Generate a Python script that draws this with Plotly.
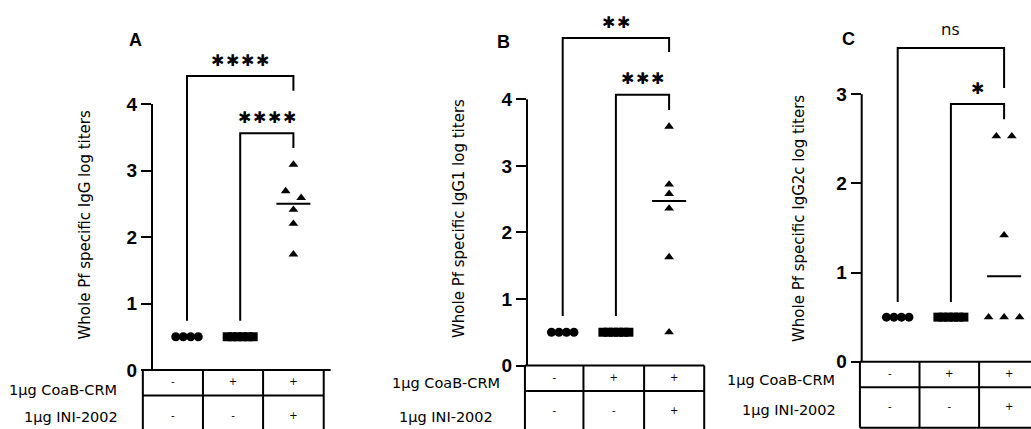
import numpy as np
import plotly.graph_objects as go

W, H = 1031, 429

# ---------------- data ----------------
groups = [1, 2, 3]
coab_row = ["-", "+", "+"]
ini_row = ["-", "-", "+"]
row_labels = ["1μg CoaB-CRM", "1μg INI-2002"]

igg_naive = [0.5, 0.5, 0.5, 0.5]
igg_coab = [0.5, 0.5, 0.5, 0.5, 0.5, 0.5]
igg_combo = [3.09, 2.69, 2.59, 2.41, 2.20, 1.74]

igg1_naive = [0.5, 0.5, 0.5, 0.5]
igg1_coab = [0.5, 0.5, 0.5, 0.5, 0.5, 0.5]
igg1_combo = [3.59, 2.72, 2.58, 2.36, 1.63, 0.50]

igg2c_naive = [0.5, 0.5, 0.5, 0.5]
igg2c_coab = [0.5, 0.5, 0.5, 0.5, 0.5, 0.5]
igg2c_combo = [2.53, 2.53, 1.42, 0.50, 0.50, 0.50]

panel_letters = ["A", "B", "C"]
y_titles = ["Whole Pf specific IgG log titers",
            "Whole Pf specific IgG1 log titers",
            "Whole Pf specific IgG2c log titers"]
y_ticks = [[0, 1, 2, 3, 4], [0, 1, 2, 3, 4], [0, 1, 2, 3]]

# significance: (group a, group b, label)
sig_labels = [["****", "****"], ["**", "***"], ["ns", "*"]]
sig_pairs = [(1, 3), (2, 3)]
# bracket levels (y of the bar, bottom of right leg, bottom of left leg, label y)
bracket_bar = [[4.42, 3.56], [4.92, 4.07], [3.52, 2.89]]
bracket_right_end = [[4.20, 3.34], [4.71, 3.84], [3.07, 2.72]]
bracket_left_end = [0.74, 0.745, 0.67]
label_y = [[4.65, 3.80], [5.16, 4.31], [3.74, 3.07]]

panel_data = [
    [igg_naive, igg_coab, igg_combo],
    [igg1_naive, igg1_coab, igg1_combo],
    [igg2c_naive, igg2c_coab, igg2c_combo],
]

# ---------------- layout config ----------------
XPPU = 53.2  # px per group unit
cfg = [
    dict(axis_px=152.0, g1_px=187.0, right_px=330.0, y0_px=370.0, ppu=66.5,
         edges=[0.17, 1.30, 2.43, 3.57], top_right=3.70,
         letter=(135, 40), title_x=84, title_y=224.5,
         rl=[(119, 390), (120, 416.7)]),
    dict(axis_px=527.0, g1_px=562.7, right_px=704.0, y0_px=365.5, ppu=66.55,
         edges=[0.29, 1.39, 2.53, 3.66], top_right=3.66,
         letter=(503, 41.7), title_x=459, title_y=219,
         rl=[(502, 383.3), (495, 416.7)]),
    dict(axis_px=861.7, g1_px=897.7, right_px=1031.0, y0_px=361.7, ppu=89.13,
         edges=[0.29, 1.41, 2.53, 3.66], top_right=3.66,
         letter=(848, 39.3), title_x=799, title_y=219,
         rl=[(837, 380), (838, 410)]),
]
ROW1_H = 25.5
TBL_H = 66.0

markers = [dict(symbol="circle", size=9, step=7.5),
           dict(symbol="square", size=9, step=5.2),
           dict(symbol="triangle-up", size=8.5, step=15.5)]

TEXT_FONT = "DejaVu Sans"


def axn(letter, k):
    return letter if k == 1 else f"{letter}{k}"


def swarm_offsets(vals, step_px, ppu_y, thresh_px=8.0):
    v = np.asarray(vals, dtype=float)
    order = np.argsort(-v, kind="stable")
    clusters = []
    for idx in order:
        if clusters and (v[clusters[-1][-1]] - v[idx]) * ppu_y < thresh_px:
            clusters[-1].append(idx)
        else:
            clusters.append([idx])
    off = np.zeros(len(v))
    for cl in clusters:
        n = len(cl)
        for j, idx in enumerate(cl):
            off[idx] = (j - (n - 1) / 2.0) * step_px / XPPU
    return off


fig = go.Figure()
layout = dict(template="none", width=W, height=H, autosize=False,
              margin=dict(l=0, r=0, t=0, b=0, pad=0, autoexpand=False),
              paper_bgcolor="white", plot_bgcolor="rgba(0,0,0,0)",
              showlegend=False)
shapes = []
annotations = []

for i, c in enumerate(cfg):
    k = i + 1          # main axes
    t = i + 4          # table axes
    xa, ya = axn("x", k), axn("y", k)
    xt, yt = axn("x", t), axn("y", t)
    xkey = "xaxis" if k == 1 else f"xaxis{k}"
    ykey = "yaxis" if k == 1 else f"yaxis{k}"

    # main axes
    x_lo = 1 + (c["axis_px"] - c["g1_px"]) / XPPU
    x_hi = 1 + (c["right_px"] - c["g1_px"]) / XPPU
    y_hi = (c["y0_px"] - 2) / c["ppu"]
    layout[xkey] = dict(domain=[c["axis_px"] / W, c["right_px"] / W],
                        range=[x_lo, x_hi], visible=False, automargin=False,
                        anchor=ya, fixedrange=True)
    layout[ykey] = dict(domain=[1 - c["y0_px"] / H, 1 - 2 / H],
                        range=[0, y_hi], anchor=xa, automargin=False,
                        showline=False, zeroline=False, showgrid=False,
                        tickvals=y_ticks[i], ticks="outside", ticklen=10,
                        tickwidth=2, tickcolor="black",
                        tickfont=dict(family="Liberation Sans", size=19,
                                      color="black", weight="bold"))
    # y axis line from 0 to top tick
    shapes.append(dict(type="line", xref=f"{xa} domain", yref=ya,
                       x0=0, x1=0, y0=-0.02, y1=max(y_ticks[i]),
                       line=dict(color="black", width=2)))

    # table axes
    e = c["edges"]
    tl_px = c["g1_px"] + (e[0] - 1) * XPPU - 5
    tr_px = min(c["g1_px"] + (max(e[3], c["top_right"]) - 1) * XPPU + 5, W)
    T = c["y0_px"]
    layout[f"xaxis{t}"] = dict(domain=[tl_px / W, tr_px / W],
                               range=[1 + (tl_px - c["g1_px"]) / XPPU,
                                      1 + (tr_px - c["g1_px"]) / XPPU],
                               visible=False, anchor=yt, fixedrange=True,
                               automargin=False)
    layout[f"yaxis{t}"] = dict(domain=[0, 1 - (T - 6) / H],
                               range=[-(H - T), 6], visible=False,
                               anchor=xt, fixedrange=True, automargin=False)
    line = dict(color="black", width=2)
    shapes.append(dict(type="line", xref=xt, yref=yt, x0=e[0], x1=c["top_right"],
                       y0=0, y1=0, line=line))
    shapes.append(dict(type="line", xref=xt, yref=yt, x0=e[0], x1=e[3],
                       y0=-ROW1_H, y1=-ROW1_H, line=line))
    shapes.append(dict(type="line", xref=xt, yref=yt, x0=e[0], x1=e[3],
                       y0=-TBL_H, y1=-TBL_H, line=line))
    for ex in e:
        shapes.append(dict(type="line", xref=xt, yref=yt, x0=ex, x1=ex,
                           y0=0, y1=-TBL_H, line=line))
    centers = [(e[j] + e[j + 1]) / 2 for j in range(3)]
    fig.add_trace(go.Scatter(x=centers, y=[-12.8] * 3, text=coab_row, mode="text",
                             textfont=dict(family=TEXT_FONT, size=10, color="black"),
                             xaxis=xt, yaxis=yt, hoverinfo="skip"))
    fig.add_trace(go.Scatter(x=centers, y=[-46] * 3, text=ini_row, mode="text",
                             textfont=dict(family=TEXT_FONT, size=10, color="black"),
                             xaxis=xt, yaxis=yt, hoverinfo="skip"))

    # data points
    for g, vals, m in zip(groups, panel_data[i], markers):
        off = swarm_offsets(vals, m["step"], c["ppu"])
        fig.add_trace(go.Scatter(x=g + off, y=vals, mode="markers",
                                 marker=dict(symbol=m["symbol"], size=m["size"],
                                             color="black", line=dict(width=0)),
                                 xaxis=xa, yaxis=ya, cliponaxis=False,
                                 hoverinfo="skip"))
    # median line of the combination group
    md = float(np.median(panel_data[i][2]))
    fig.add_trace(go.Scatter(x=[groups[2] - 0.32, groups[2] + 0.32], y=[md, md],
                             mode="lines", line=dict(color="black", width=2),
                             xaxis=xa, yaxis=ya, hoverinfo="skip"))

    # significance brackets
    for j, (ga, gb) in enumerate(sig_pairs):
        bx = [ga, ga, gb, gb]
        by = [bracket_left_end[i], bracket_bar[i][j], bracket_bar[i][j],
              bracket_right_end[i][j]]
        fig.add_trace(go.Scatter(x=bx, y=by, mode="lines",
                                 line=dict(color="black", width=2),
                                 xaxis=xa, yaxis=ya, hoverinfo="skip"))
        lab = sig_labels[i][j]
        if lab == "ns":
            txt, fnt = "ns", dict(family="Open Sans", size=17, color="black")
        else:
            txt = "\u200a".join(["✱"] * len(lab))
            fnt = dict(family="DejaVu Sans", size=16, color="black")
        annotations.append(dict(x=(ga + gb) / 2, y=label_y[i][j], xref=xa, yref=ya,
                                text=txt, showarrow=False, font=fnt,
                                xanchor="center", yanchor="middle"))

    # panel letter
    annotations.append(dict(x=c["letter"][0] / W, y=1 - c["letter"][1] / H,
                            xref="paper", yref="paper", text=panel_letters[i],
                            showarrow=False, xanchor="center", yanchor="middle",
                            font=dict(family="Liberation Sans", size=18,
                                      color="black", weight="bold")))
    # y title
    annotations.append(dict(x=c["title_x"] / W, y=1 - c["title_y"] / H,
                            xref="paper", yref="paper", text=y_titles[i],
                            textangle=-90, showarrow=False,
                            xanchor="center", yanchor="middle",
                            font=dict(family=TEXT_FONT, size=15, color="black")))
    # row labels
    for (rx, ry), lab in zip(c["rl"], row_labels):
        annotations.append(dict(x=rx / W, y=1 - ry / H, xref="paper", yref="paper",
                                text=lab, showarrow=False, xanchor="right",
                                yanchor="middle",
                                font=dict(family=TEXT_FONT, size=14.5, color="black")))

layout["shapes"] = shapes
layout["annotations"] = annotations
fig.update_layout(**layout)
fig.write_html("out.html")
